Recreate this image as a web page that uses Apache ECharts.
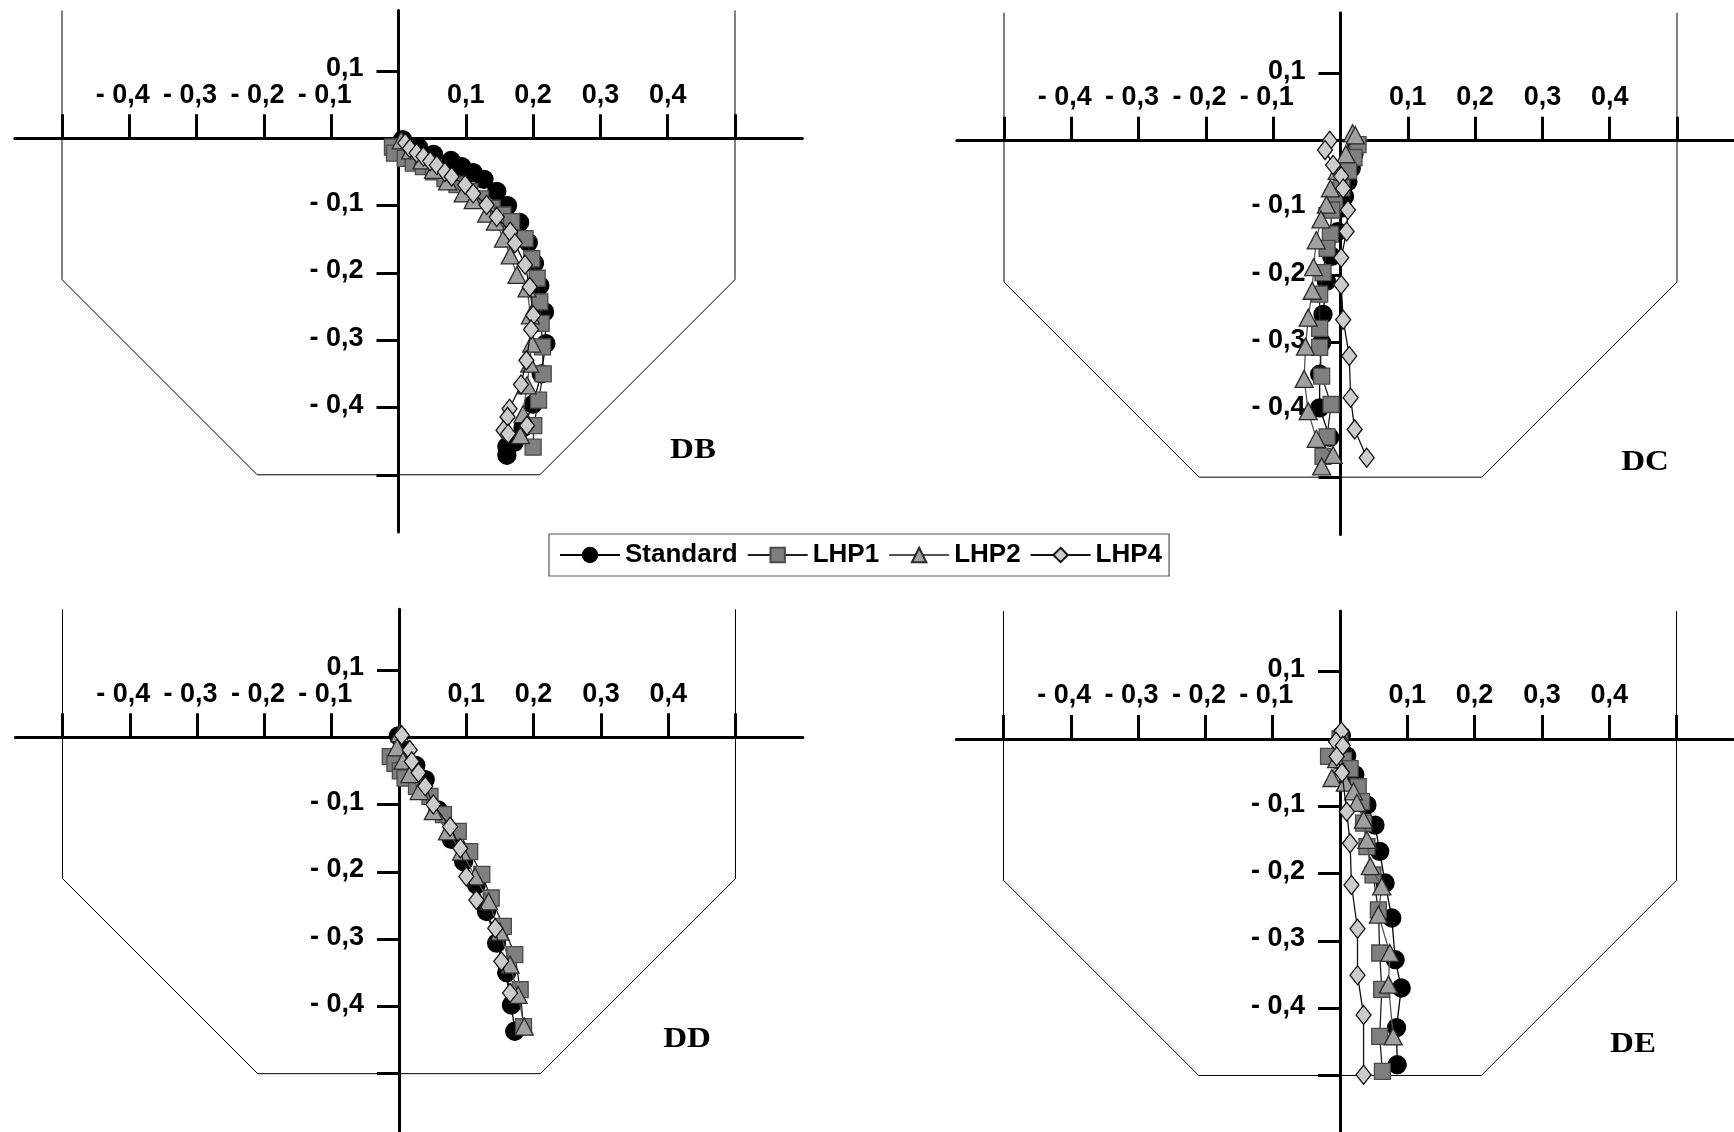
<!DOCTYPE html>
<html>
<head>
<meta charset="utf-8">
<script src="https://cdn.jsdelivr.net/npm/echarts@6/dist/echarts.min.js"></script>
<style>
  html, body { margin: 0; padding: 0; background: #fff; }
  #chart { width: 1734px; height: 1132px; }
</style>
</head>
<body>
<div id="chart"></div>
<script>
// ---- tags, names and tick values ----
const panelNames = ['DB', 'DC', 'DD', 'DE'];
const seriesNames = ['Standard', 'LHP1', 'LHP2', 'LHP4'];
const xTickValues = [-0.5, -0.4, -0.3, -0.2, -0.1, 0.1, 0.2, 0.3, 0.4, 0.5];
const xLabelValues = [-0.4, -0.3, -0.2, -0.1, 0.1, 0.2, 0.3, 0.4];
const yTickValues = [0.1, -0.1, -0.2, -0.3, -0.4, -0.5];
const yLabelValues = [0.1, -0.1, -0.2, -0.3, -0.4];

// channel cross-section outline (m)
const channelX = [-0.5, -0.5, -0.21, 0.21, 0.5, 0.5];
const channelY = [0.19, -0.21, -0.5, -0.5, -0.21, 0.19];

// ---- DB ----
const dbStdX = [0.006, 0.03, 0.052, 0.078, 0.094, 0.111, 0.127, 0.146, 0.162, 0.18, 0.193, 0.202, 0.21, 0.217, 0.219, 0.212, 0.2, 0.185, 0.172, 0.161, 0.161];
const dbStdY = [-0.002, -0.014, -0.024, -0.033, -0.042, -0.051, -0.061, -0.079, -0.1, -0.125, -0.155, -0.186, -0.219, -0.258, -0.305, -0.35, -0.395, -0.43, -0.452, -0.458, -0.471];
const dbL1X = [-0.009, -0.006, 0.01, 0.022, 0.037, 0.052, 0.069, 0.087, 0.106, 0.122, 0.139, 0.155, 0.168, 0.188, 0.198, 0.206, 0.21, 0.212, 0.214, 0.215, 0.208, 0.201, 0.2];
const dbL1Y = [-0.013, -0.022, -0.03, -0.037, -0.042, -0.05, -0.06, -0.069, -0.079, -0.09, -0.104, -0.114, -0.124, -0.149, -0.179, -0.208, -0.243, -0.275, -0.31, -0.35, -0.389, -0.427, -0.459];
const dbL2X = [0.004, 0.018, 0.035, 0.052, 0.073, 0.096, 0.111, 0.131, 0.144, 0.156, 0.166, 0.176, 0.191, 0.196, 0.198, 0.195, 0.191, 0.185, 0.181];
const dbL2Y = [-0.003, -0.018, -0.033, -0.047, -0.064, -0.082, -0.092, -0.112, -0.124, -0.149, -0.174, -0.203, -0.223, -0.263, -0.305, -0.335, -0.367, -0.41, -0.441];
const dbL4X = [0.01, 0.017, 0.027, 0.037, 0.047, 0.057, 0.069, 0.079, 0.099, 0.111, 0.131, 0.146, 0.166, 0.173, 0.188, 0.195, 0.2, 0.197, 0.19, 0.182, 0.165, 0.162, 0.156, 0.163, 0.191];
const dbL4Y = [-0.007, -0.015, -0.022, -0.027, -0.034, -0.04, -0.05, -0.057, -0.069, -0.082, -0.099, -0.117, -0.139, -0.156, -0.188, -0.221, -0.263, -0.284, -0.33, -0.366, -0.402, -0.414, -0.434, -0.439, -0.427];

// ---- DC ----
const dcStdX = [0.024, 0.02, 0.016, 0.011, 0.006, 0.003, -0.004, -0.013, -0.021, -0.026, -0.028, -0.031, -0.031, -0.016];
const dcStdY = [-0.006, -0.02, -0.041, -0.061, -0.083, -0.1, -0.135, -0.172, -0.209, -0.258, -0.3, -0.347, -0.397, -0.441];
const dcL1X = [0.026, 0.02, 0.012, 0.002, -0.009, -0.013, -0.015, -0.02, -0.026, -0.031, -0.031, -0.031, -0.028, -0.014, -0.02, -0.026];
const dcL1Y = [-0.006, -0.025, -0.045, -0.07, -0.094, -0.103, -0.139, -0.16, -0.196, -0.228, -0.279, -0.307, -0.35, -0.392, -0.44, -0.469];
const dcL2X = [0.018, 0.022, 0.008, -0.005, -0.015, -0.021, -0.029, -0.036, -0.04, -0.042, -0.048, -0.052, -0.054, -0.048, -0.036, -0.011, -0.028];
const dcL2Y = [0.011, 0.008, -0.02, -0.045, -0.071, -0.095, -0.117, -0.148, -0.188, -0.223, -0.263, -0.306, -0.354, -0.402, -0.443, -0.467, -0.484];
const dcL4X = [-0.016, -0.023, -0.011, 0.001, 0.004, 0.011, 0.009, 0.001, 0.001, 0.004, 0.013, 0.015, 0.021, 0.039];
const dcL4Y = [0.0, -0.014, -0.036, -0.053, -0.071, -0.103, -0.135, -0.174, -0.214, -0.266, -0.32, -0.382, -0.429, -0.471];

// ---- DD ----
const ddStdX = [-0.001, 0.01, 0.025, 0.039, 0.058, 0.078, 0.096, 0.115, 0.13, 0.145, 0.16, 0.167, 0.172];
const ddStdY = [0.002, -0.02, -0.042, -0.063, -0.108, -0.152, -0.185, -0.219, -0.259, -0.306, -0.35, -0.398, -0.437];
const ddL1X = [-0.013, -0.006, 0.002, 0.009, 0.026, 0.046, 0.066, 0.088, 0.105, 0.123, 0.137, 0.155, 0.172, 0.18, 0.185];
const ddL1Y = [-0.029, -0.039, -0.05, -0.061, -0.073, -0.088, -0.115, -0.14, -0.17, -0.204, -0.239, -0.281, -0.323, -0.375, -0.43];
const ddL2X = [0.001, -0.003, 0.006, 0.016, 0.03, 0.051, 0.072, 0.093, 0.113, 0.133, 0.15, 0.165, 0.177, 0.186];
const ddL2Y = [0.006, -0.015, -0.035, -0.055, -0.08, -0.11, -0.14, -0.17, -0.207, -0.244, -0.289, -0.338, -0.383, -0.43];
const ddL4X = [0.004, 0.016, 0.019, 0.029, 0.039, 0.051, 0.076, 0.091, 0.1, 0.115, 0.143, 0.152, 0.165];
const ddL4Y = [0.003, -0.019, -0.036, -0.053, -0.073, -0.1, -0.133, -0.165, -0.207, -0.242, -0.284, -0.333, -0.38];

// ---- DE ----
const deStdX = [0.002, 0.01, 0.022, 0.04, 0.052, 0.059, 0.067, 0.077, 0.082, 0.091, 0.084, 0.085];
const deStdY = [0.005, -0.025, -0.053, -0.098, -0.128, -0.167, -0.214, -0.266, -0.328, -0.37, -0.429, -0.484];
const deL1X = [0.0, -0.017, 0.005, 0.015, 0.027, 0.032, 0.035, 0.04, 0.049, 0.057, 0.059, 0.062, 0.059, 0.063];
const deL1Y = [0.0, -0.026, -0.032, -0.044, -0.071, -0.093, -0.125, -0.16, -0.202, -0.254, -0.318, -0.372, -0.442, -0.494];
const deL2X = [0.0, -0.005, -0.012, 0.008, 0.02, 0.025, 0.035, 0.04, 0.045, 0.062, 0.057, 0.074, 0.072, 0.079];
const deL2Y = [0.005, -0.03, -0.058, -0.065, -0.078, -0.095, -0.12, -0.15, -0.189, -0.219, -0.261, -0.318, -0.365, -0.442];
const deL4X = [0.002, -0.006, 0.004, -0.005, 0.003, 0.01, 0.015, 0.017, 0.026, 0.026, 0.035, 0.035];
const deL4Y = [0.011, -0.004, -0.01, -0.026, -0.05, -0.108, -0.155, -0.217, -0.282, -0.351, -0.41, -0.499];

const panelData = [
  [[dbStdX, dbStdY], [dbL1X, dbL1Y], [dbL2X, dbL2Y], [dbL4X, dbL4Y]],
  [[dcStdX, dcStdY], [dcL1X, dcL1Y], [dcL2X, dcL2Y], [dcL4X, dcL4Y]],
  [[ddStdX, ddStdY], [ddL1X, ddL1Y], [ddL2X, ddL2Y], [ddL4X, ddL4Y]],
  [[deStdX, deStdY], [deL1X, deL1Y], [deL2X, deL2Y], [deL4X, deL4Y]]
];

// ---- layout ----
const UNIT = 673;              // px per metre, same on both axes
const Y_MIN = -0.585, Y_MAX = 0.19, X_MIN = -0.57;
const panelLayout = [
  { left: 14.9,  top: 10.4,  xMax: 0.6,   tagX: 693,  tagY: 450 },
  { left: 956.9, top: 12.8,  xMax: 0.584, tagX: 1645, tagY: 462 },
  { left: 15.4,  top: 609.3, xMax: 0.6,   tagX: 687,  tagY: 1039 },
  { left: 956.4, top: 611.1, xMax: 0.584, tagX: 1633, tagY: 1044 }
];

const seriesStyle = [
  { symbol: 'circle',   size: 18,       fill: '#000000', border: '#000000', line: '#000000' },
  { symbol: 'rect',     size: 16,       fill: '#7f7f7f', border: '#4a4a4a', line: '#222222' },
  { symbol: 'triangle', size: [18, 17], fill: '#a0a0a0', border: '#2a2a2a', line: '#555555' },
  { symbol: 'diamond',  size: [15, 19], fill: '#cccccc', border: '#111111', line: '#111111' }
];

const SANS = '"Liberation Sans", Arial, sans-serif';
const LABEL_FONT = 'bold 27px "Liberation Sans", Arial, sans-serif';
const fmt = v => (v < 0 ? '- ' : '') + Math.abs(v).toFixed(1).replace('.', ',');

const grids = [], xAxes = [], yAxes = [], series = [], graphics = [];

panelLayout.forEach((p, i) => {
  grids.push({
    left: p.left, top: p.top,
    width: (p.xMax - X_MIN) * UNIT,
    height: (Y_MAX - Y_MIN) * UNIT,
    containLabel: false,
    outerBoundsMode: 'none'
  });
  xAxes.push({
    type: 'value', gridIndex: i, min: X_MIN, max: p.xMax, position: 'top',
    axisLine: { onZero: true, lineStyle: { color: '#000', width: 3 } },
    axisTick: { show: true, length: 24, lineStyle: { color: '#000', width: 3 }, customValues: xTickValues },
    axisLabel: { show: false },
    splitLine: { show: false }
  });
  yAxes.push({
    type: 'value', gridIndex: i, min: Y_MIN, max: Y_MAX, position: 'left',
    axisLine: { onZero: true, lineStyle: { color: '#000', width: 3 } },
    axisTick: { show: true, length: 22, lineStyle: { color: '#000', width: 3 }, customValues: yTickValues },
    axisLabel: { show: false },
    splitLine: { show: false }
  });

  // tick labels along the horizontal axis (above the line)
  series.push({
    type: 'custom', name: 'xLabels', xAxisIndex: i, yAxisIndex: i, silent: true, z: 5,
    data: xLabelValues.map(v => [v, 0]),
    renderItem: (params, api) => {
      const v = api.value(0);
      const pt = api.coord([v, 0]);
      return {
        type: 'text', x: pt[0] - (v < 0 ? 6.5 : 0), y: pt[1] - 43,
        style: { text: fmt(v), font: LABEL_FONT, fill: '#000', align: 'center', verticalAlign: 'middle' }
      };
    }
  });
  // tick labels along the vertical axis (left of the line)
  series.push({
    type: 'custom', name: 'yLabels', xAxisIndex: i, yAxisIndex: i, silent: true, z: 5,
    data: yLabelValues.map(v => [0, v]),
    renderItem: (params, api) => {
      const v = api.value(1);
      const pt = api.coord([0, v]);
      return {
        type: 'text', x: pt[0] - 35, y: pt[1] - 2,
        style: { text: fmt(v), font: LABEL_FONT, fill: '#000', align: 'right', verticalAlign: 'middle' }
      };
    }
  });

  // channel outline
  series.push({
    type: 'line', name: 'channel', xAxisIndex: i, yAxisIndex: i,
    data: channelX.map((x, k) => [x, channelY[k]]),
    symbol: 'none', silent: true, z: 1,
    lineStyle: { color: '#000', width: 1 }
  });

  panelData[i].forEach((pair, s) => {
    const st = seriesStyle[s];
    series.push({
      type: 'line', name: seriesNames[s], xAxisIndex: i, yAxisIndex: i,
      data: pair[0].map((x, k) => [x, pair[1][k]]),
      symbol: st.symbol, symbolSize: st.size, z: 3 + s,
      lineStyle: { color: st.line, width: 1.3 },
      itemStyle: { color: st.fill, borderColor: st.border, borderWidth: 1.3 },
      emphasis: { disabled: true }
    });
  });

  graphics.push({
    type: 'text', x: p.tagX, y: p.tagY, scaleX: 1.1,
    style: {
      text: panelNames[i], fill: '#000',
      font: 'bold 30px "Liberation Serif", "Times New Roman", serif',
      align: 'center', verticalAlign: 'middle'
    }
  });
});

const chart = echarts.init(document.getElementById('chart'), null, { renderer: 'canvas' });
chart.setOption({
  animation: false,
  backgroundColor: '#ffffff',
  textStyle: { fontFamily: SANS },
  grid: grids,
  xAxis: xAxes,
  yAxis: yAxes,
  legend: {
    data: seriesNames, left: 549, top: 534, orient: 'horizontal',
    itemWidth: 60, itemHeight: 18, itemGap: 9,
    padding: [8, 7, 8, 10],
    borderColor: '#555', borderWidth: 1.2, backgroundColor: '#fff',
    selectedMode: false,
    textStyle: { fontSize: 26, fontWeight: 'bold', fontFamily: SANS, color: '#000' }
  },
  graphic: graphics,
  series: series
});
</script>
</body>
</html>
